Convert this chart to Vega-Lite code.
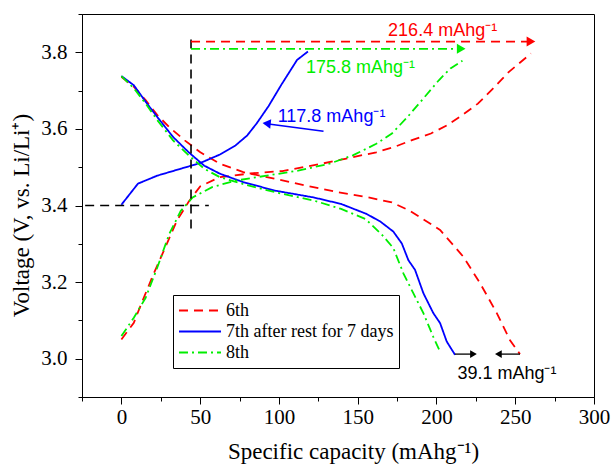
{
  "$schema": "https://vega.github.io/schema/vega-lite/v6.json",
  "autosize": {"type": "none"},
  "padding": {"left": 82, "top": 14, "right": 22, "bottom": 70},
  "width": 512,
  "height": 383,
  "datasets": {
    "curves": [
      {"cycle": "6th", "branch": "c", "i": 0, "cap": 0, "v": 3.05},
      {"cycle": "6th", "branch": "c", "i": 1, "cap": 7.9, "v": 3.094},
      {"cycle": "6th", "branch": "c", "i": 2, "cap": 12.9, "v": 3.146},
      {"cycle": "6th", "branch": "c", "i": 3, "cap": 20.3, "v": 3.22},
      {"cycle": "6th", "branch": "c", "i": 4, "cap": 27.8, "v": 3.29},
      {"cycle": "6th", "branch": "c", "i": 5, "cap": 35.2, "v": 3.36},
      {"cycle": "6th", "branch": "c", "i": 6, "cap": 42.7, "v": 3.41},
      {"cycle": "6th", "branch": "c", "i": 7, "cap": 50, "v": 3.45},
      {"cycle": "6th", "branch": "c", "i": 8, "cap": 62.5, "v": 3.474},
      {"cycle": "6th", "branch": "c", "i": 9, "cap": 82.4, "v": 3.484},
      {"cycle": "6th", "branch": "c", "i": 10, "cap": 102.2, "v": 3.49},
      {"cycle": "6th", "branch": "c", "i": 11, "cap": 127, "v": 3.509},
      {"cycle": "6th", "branch": "c", "i": 12, "cap": 142, "v": 3.522},
      {"cycle": "6th", "branch": "c", "i": 13, "cap": 161.8, "v": 3.539},
      {"cycle": "6th", "branch": "c", "i": 14, "cap": 174, "v": 3.554},
      {"cycle": "6th", "branch": "c", "i": 15, "cap": 184, "v": 3.57},
      {"cycle": "6th", "branch": "c", "i": 16, "cap": 196.5, "v": 3.588},
      {"cycle": "6th", "branch": "c", "i": 17, "cap": 206.5, "v": 3.609},
      {"cycle": "6th", "branch": "c", "i": 18, "cap": 216.4, "v": 3.636},
      {"cycle": "6th", "branch": "c", "i": 19, "cap": 226.3, "v": 3.666},
      {"cycle": "6th", "branch": "c", "i": 20, "cap": 236, "v": 3.706},
      {"cycle": "6th", "branch": "c", "i": 21, "cap": 246, "v": 3.749},
      {"cycle": "6th", "branch": "c", "i": 22, "cap": 260, "v": 3.797},
      {"cycle": "6th", "branch": "d", "i": 0, "cap": 0, "v": 3.736},
      {"cycle": "6th", "branch": "d", "i": 1, "cap": 7.9, "v": 3.71},
      {"cycle": "6th", "branch": "d", "i": 2, "cap": 15.4, "v": 3.675},
      {"cycle": "6th", "branch": "d", "i": 3, "cap": 22.8, "v": 3.636},
      {"cycle": "6th", "branch": "d", "i": 4, "cap": 30.3, "v": 3.605},
      {"cycle": "6th", "branch": "d", "i": 5, "cap": 40.2, "v": 3.57},
      {"cycle": "6th", "branch": "d", "i": 6, "cap": 50.1, "v": 3.539},
      {"cycle": "6th", "branch": "d", "i": 7, "cap": 62.5, "v": 3.509},
      {"cycle": "6th", "branch": "d", "i": 8, "cap": 77.4, "v": 3.487},
      {"cycle": "6th", "branch": "d", "i": 9, "cap": 97.3, "v": 3.47},
      {"cycle": "6th", "branch": "d", "i": 10, "cap": 117.1, "v": 3.452},
      {"cycle": "6th", "branch": "d", "i": 11, "cap": 137, "v": 3.435},
      {"cycle": "6th", "branch": "d", "i": 12, "cap": 156.8, "v": 3.421},
      {"cycle": "6th", "branch": "d", "i": 13, "cap": 171.7, "v": 3.408},
      {"cycle": "6th", "branch": "d", "i": 14, "cap": 183.2, "v": 3.386},
      {"cycle": "6th", "branch": "d", "i": 15, "cap": 202.3, "v": 3.336},
      {"cycle": "6th", "branch": "d", "i": 16, "cap": 217.1, "v": 3.266},
      {"cycle": "6th", "branch": "d", "i": 17, "cap": 227.7, "v": 3.197},
      {"cycle": "6th", "branch": "d", "i": 18, "cap": 238.3, "v": 3.119},
      {"cycle": "6th", "branch": "d", "i": 19, "cap": 246.7, "v": 3.048},
      {"cycle": "6th", "branch": "d", "i": 20, "cap": 253, "v": 3.012},
      {"cycle": "7th after rest for 7 days", "branch": "c", "i": 0, "cap": 0, "v": 3.402},
      {"cycle": "7th after rest for 7 days", "branch": "c", "i": 1, "cap": 10.5, "v": 3.457},
      {"cycle": "7th after rest for 7 days", "branch": "c", "i": 2, "cap": 22.8, "v": 3.478},
      {"cycle": "7th after rest for 7 days", "branch": "c", "i": 3, "cap": 37.7, "v": 3.496},
      {"cycle": "7th after rest for 7 days", "branch": "c", "i": 4, "cap": 50.1, "v": 3.511},
      {"cycle": "7th after rest for 7 days", "branch": "c", "i": 5, "cap": 62.5, "v": 3.533},
      {"cycle": "7th after rest for 7 days", "branch": "c", "i": 6, "cap": 72.5, "v": 3.557},
      {"cycle": "7th after rest for 7 days", "branch": "c", "i": 7, "cap": 79.9, "v": 3.583},
      {"cycle": "7th after rest for 7 days", "branch": "c", "i": 8, "cap": 86, "v": 3.615},
      {"cycle": "7th after rest for 7 days", "branch": "c", "i": 9, "cap": 93.5, "v": 3.66},
      {"cycle": "7th after rest for 7 days", "branch": "c", "i": 10, "cap": 101.5, "v": 3.715},
      {"cycle": "7th after rest for 7 days", "branch": "c", "i": 11, "cap": 111.5, "v": 3.78},
      {"cycle": "7th after rest for 7 days", "branch": "c", "i": 12, "cap": 118.4, "v": 3.802},
      {"cycle": "7th after rest for 7 days", "branch": "d", "i": 0, "cap": 0, "v": 3.738},
      {"cycle": "7th after rest for 7 days", "branch": "d", "i": 1, "cap": 7.9, "v": 3.714},
      {"cycle": "7th after rest for 7 days", "branch": "d", "i": 2, "cap": 15.4, "v": 3.671},
      {"cycle": "7th after rest for 7 days", "branch": "d", "i": 3, "cap": 22.8, "v": 3.631},
      {"cycle": "7th after rest for 7 days", "branch": "d", "i": 4, "cap": 32.8, "v": 3.579},
      {"cycle": "7th after rest for 7 days", "branch": "d", "i": 5, "cap": 42.7, "v": 3.539},
      {"cycle": "7th after rest for 7 days", "branch": "d", "i": 6, "cap": 52.6, "v": 3.504},
      {"cycle": "7th after rest for 7 days", "branch": "d", "i": 7, "cap": 62.5, "v": 3.483},
      {"cycle": "7th after rest for 7 days", "branch": "d", "i": 8, "cap": 77.4, "v": 3.461},
      {"cycle": "7th after rest for 7 days", "branch": "d", "i": 9, "cap": 97.3, "v": 3.439},
      {"cycle": "7th after rest for 7 days", "branch": "d", "i": 10, "cap": 122.1, "v": 3.421},
      {"cycle": "7th after rest for 7 days", "branch": "d", "i": 11, "cap": 139.5, "v": 3.404},
      {"cycle": "7th after rest for 7 days", "branch": "d", "i": 12, "cap": 155.6, "v": 3.378},
      {"cycle": "7th after rest for 7 days", "branch": "d", "i": 13, "cap": 164.4, "v": 3.358},
      {"cycle": "7th after rest for 7 days", "branch": "d", "i": 14, "cap": 172.6, "v": 3.332},
      {"cycle": "7th after rest for 7 days", "branch": "d", "i": 15, "cap": 178, "v": 3.301},
      {"cycle": "7th after rest for 7 days", "branch": "d", "i": 16, "cap": 182.2, "v": 3.257},
      {"cycle": "7th after rest for 7 days", "branch": "d", "i": 17, "cap": 186.4, "v": 3.232},
      {"cycle": "7th after rest for 7 days", "branch": "d", "i": 18, "cap": 191.7, "v": 3.171},
      {"cycle": "7th after rest for 7 days", "branch": "d", "i": 19, "cap": 198, "v": 3.119},
      {"cycle": "7th after rest for 7 days", "branch": "d", "i": 20, "cap": 202.3, "v": 3.093},
      {"cycle": "7th after rest for 7 days", "branch": "d", "i": 21, "cap": 206.5, "v": 3.045},
      {"cycle": "7th after rest for 7 days", "branch": "d", "i": 22, "cap": 211.8, "v": 3.01},
      {"cycle": "8th", "branch": "c", "i": 0, "cap": 0, "v": 3.059},
      {"cycle": "8th", "branch": "c", "i": 1, "cap": 7.9, "v": 3.107},
      {"cycle": "8th", "branch": "c", "i": 2, "cap": 15.4, "v": 3.159},
      {"cycle": "8th", "branch": "c", "i": 3, "cap": 22.8, "v": 3.238},
      {"cycle": "8th", "branch": "c", "i": 4, "cap": 30.3, "v": 3.325},
      {"cycle": "8th", "branch": "c", "i": 5, "cap": 37.7, "v": 3.386},
      {"cycle": "8th", "branch": "c", "i": 6, "cap": 45.2, "v": 3.421},
      {"cycle": "8th", "branch": "c", "i": 7, "cap": 57.6, "v": 3.448},
      {"cycle": "8th", "branch": "c", "i": 8, "cap": 72.5, "v": 3.465},
      {"cycle": "8th", "branch": "c", "i": 9, "cap": 92.3, "v": 3.478},
      {"cycle": "8th", "branch": "c", "i": 10, "cap": 112.2, "v": 3.491},
      {"cycle": "8th", "branch": "c", "i": 11, "cap": 132, "v": 3.509},
      {"cycle": "8th", "branch": "c", "i": 12, "cap": 146.9, "v": 3.531},
      {"cycle": "8th", "branch": "c", "i": 13, "cap": 161.8, "v": 3.561},
      {"cycle": "8th", "branch": "c", "i": 14, "cap": 171.7, "v": 3.588},
      {"cycle": "8th", "branch": "c", "i": 15, "cap": 181.6, "v": 3.631},
      {"cycle": "8th", "branch": "c", "i": 16, "cap": 191.6, "v": 3.679},
      {"cycle": "8th", "branch": "c", "i": 17, "cap": 201.5, "v": 3.727},
      {"cycle": "8th", "branch": "c", "i": 18, "cap": 208.9, "v": 3.758},
      {"cycle": "8th", "branch": "c", "i": 19, "cap": 216.5, "v": 3.778},
      {"cycle": "8th", "branch": "d", "i": 0, "cap": 0, "v": 3.738},
      {"cycle": "8th", "branch": "d", "i": 1, "cap": 7.9, "v": 3.706},
      {"cycle": "8th", "branch": "d", "i": 2, "cap": 15.4, "v": 3.666},
      {"cycle": "8th", "branch": "d", "i": 3, "cap": 22.8, "v": 3.623},
      {"cycle": "8th", "branch": "d", "i": 4, "cap": 32.8, "v": 3.57},
      {"cycle": "8th", "branch": "d", "i": 5, "cap": 42.7, "v": 3.531},
      {"cycle": "8th", "branch": "d", "i": 6, "cap": 52.6, "v": 3.496},
      {"cycle": "8th", "branch": "d", "i": 7, "cap": 62.5, "v": 3.474},
      {"cycle": "8th", "branch": "d", "i": 8, "cap": 77.4, "v": 3.456},
      {"cycle": "8th", "branch": "d", "i": 9, "cap": 97.3, "v": 3.435},
      {"cycle": "8th", "branch": "d", "i": 10, "cap": 122.1, "v": 3.413},
      {"cycle": "8th", "branch": "d", "i": 11, "cap": 139.5, "v": 3.391},
      {"cycle": "8th", "branch": "d", "i": 12, "cap": 154.9, "v": 3.365},
      {"cycle": "8th", "branch": "d", "i": 13, "cap": 165.3, "v": 3.324},
      {"cycle": "8th", "branch": "d", "i": 14, "cap": 172.6, "v": 3.289},
      {"cycle": "8th", "branch": "d", "i": 15, "cap": 179, "v": 3.223},
      {"cycle": "8th", "branch": "d", "i": 16, "cap": 185.3, "v": 3.171},
      {"cycle": "8th", "branch": "d", "i": 17, "cap": 191.7, "v": 3.119},
      {"cycle": "8th", "branch": "d", "i": 18, "cap": 198, "v": 3.057},
      {"cycle": "8th", "branch": "d", "i": 19, "cap": 202.3, "v": 3.018}
    ]
  },
  "resolve": {"axis": {"x": "independent", "y": "independent"}},
  "layer": [
    {
      "data": {"name": "curves"},
      "mark": {"type": "line", "strokeWidth": 1.8},
      "encoding": {
        "x": {
          "field": "cap", "type": "quantitative",
          "scale": {"domain": [-25, 300], "nice": false, "zero": false},
          "axis": {
            "orient": "bottom",
            "title": "Specific capacity (mAhg⁻¹)",
            "values": [0, 50, 100, 150, 200, 250, 300],
            "tickSize": 7,
            "labelPadding": 2,
            "titleX": 271, "titleY": 61, "titleBaseline": "alphabetic", "titleAlign": "center"
          }
        },
        "y": {
          "field": "v", "type": "quantitative",
          "scale": {"domain": [2.9, 3.9], "nice": false, "zero": false},
          "axis": {
            "orient": "left",
            "title": "Voltage (V, vs. Li/Li⁺)",
            "values": [3.0, 3.2, 3.4, 3.6, 3.8],
            "format": ".1f",
            "tickSize": 7,
            "labelPadding": 8,
            "titleX": -54, "titleY": 201, "titleBaseline": "alphabetic", "titleAlign": "center", "titleAngle": -90
          }
        },
        "color": {
          "field": "cycle", "type": "nominal", "title": null,
          "scale": {"domain": ["6th", "7th after rest for 7 days", "8th"], "range": ["#FF0000", "#0000FF", "#00EE00"]}
        },
        "strokeDash": {
          "field": "cycle", "type": "nominal", "title": null,
          "scale": {"domain": ["6th", "7th after rest for 7 days", "8th"], "range": [[9, 6], [1, 0], [9, 4, 2, 4]]}
        },
        "detail": {"field": "branch"},
        "order": {"field": "i", "type": "quantitative"}
      }
    },
    {
      "data": {"values": [
        {"x": -23, "x2": 55.5, "y": 3.4, "y2": 3.4},
        {"x": 44.2, "x2": 44.2, "y": 3.34, "y2": 3.834}
      ]},
      "mark": {"type": "rule", "color": "#000000", "strokeWidth": 1.6, "strokeDash": [9, 6]},
      "encoding": {
        "x": {"field": "x", "type": "quantitative", "axis": {"orient": "bottom", "values": [-25, 25, 75, 125, 175, 225, 275], "tickSize": 4, "labels": false, "domain": false, "title": null}},
        "x2": {"field": "x2"},
        "y": {"field": "y", "type": "quantitative", "axis": {"orient": "left", "values": [2.9, 3.1, 3.3, 3.5, 3.7, 3.9], "tickSize": 4, "labels": false, "domain": false, "title": null}},
        "y2": {"field": "y2"}
      }
    },
    {
      "data": {"values": [{"x": 44.2, "x2": 258, "y": 3.828}]},
      "mark": {"type": "rule", "color": "#FF0000", "strokeWidth": 1.8, "strokeDash": [9, 6]},
      "encoding": {
        "x": {"field": "x", "type": "quantitative", "axis": null},
        "x2": {"field": "x2"},
        "y": {"field": "y", "type": "quantitative", "axis": null}
      }
    },
    {
      "data": {"values": [{"x": 44.2, "x2": 214, "y": 3.809}]},
      "mark": {"type": "rule", "color": "#00EE00", "strokeWidth": 1.8, "strokeDash": [9, 4, 2, 4]},
      "encoding": {
        "x": {"field": "x", "type": "quantitative", "axis": null},
        "x2": {"field": "x2"},
        "y": {"field": "y", "type": "quantitative", "axis": null}
      }
    },
    {
      "data": {"values": [{"x": 91, "x2": 128.3, "y": 3.614, "y2": 3.594}]},
      "mark": {"type": "rule", "color": "#0000FF", "strokeWidth": 1.5},
      "encoding": {
        "x": {"field": "x", "type": "quantitative", "axis": null},
        "x2": {"field": "x2"},
        "y": {"field": "y", "type": "quantitative", "axis": null},
        "y2": {"field": "y2"}
      }
    },
    {
      "data": {"values": [{"x": 211.8, "x2": 223, "y": 3.012}, {"x": 253, "x2": 239.5, "y": 3.012}]},
      "mark": {"type": "rule", "color": "#000000", "strokeWidth": 1.3},
      "encoding": {
        "x": {"field": "x", "type": "quantitative", "axis": null},
        "x2": {"field": "x2"},
        "y": {"field": "y", "type": "quantitative", "axis": null}
      }
    },
    {
      "data": {"values": [{"x": 260, "y": 3.828}]},
      "mark": {"type": "point", "shape": "triangle-right", "filled": true, "opacity": 1, "size": 100, "color": "#FF0000"},
      "encoding": {"x": {"field": "x", "type": "quantitative", "axis": null}, "y": {"field": "y", "type": "quantitative", "axis": null}}
    },
    {
      "data": {"values": [{"x": 215.7, "y": 3.809}]},
      "mark": {"type": "point", "shape": "triangle-right", "filled": true, "opacity": 1, "size": 100, "color": "#00EE00"},
      "encoding": {"x": {"field": "x", "type": "quantitative", "axis": null}, "y": {"field": "y", "type": "quantitative", "axis": null}}
    },
    {
      "data": {"values": [{"x": 92.2, "y": 3.614}]},
      "mark": {"type": "point", "shape": "triangle-left", "angle": 6, "filled": true, "opacity": 1, "size": 90, "color": "#0000FF"},
      "encoding": {"x": {"field": "x", "type": "quantitative", "axis": null}, "y": {"field": "y", "type": "quantitative", "axis": null}}
    },
    {
      "data": {"values": [{"x": 223.5, "y": 3.012}]},
      "mark": {"type": "point", "shape": "triangle-right", "filled": true, "opacity": 1, "size": 60, "color": "#000000"},
      "encoding": {"x": {"field": "x", "type": "quantitative", "axis": null}, "y": {"field": "y", "type": "quantitative", "axis": null}}
    },
    {
      "data": {"values": [{"x": 239.3, "y": 3.012}]},
      "mark": {"type": "point", "shape": "triangle-left", "filled": true, "opacity": 1, "size": 60, "color": "#000000"},
      "encoding": {"x": {"field": "x", "type": "quantitative", "axis": null}, "y": {"field": "y", "type": "quantitative", "axis": null}}
    },
    {
      "data": {"values": [{"x": 169.3, "y": 3.843, "label": "216.4 mAhg⁻¹"}]},
      "mark": {"type": "text", "align": "left", "baseline": "alphabetic", "font": "Liberation Sans", "fontSize": 18, "color": "#FF0000"},
      "encoding": {"x": {"field": "x", "type": "quantitative", "axis": null}, "y": {"field": "y", "type": "quantitative", "axis": null}, "text": {"field": "label"}}
    },
    {
      "data": {"values": [{"x": 117.2, "y": 3.745, "label": "175.8 mAhg⁻¹"}]},
      "mark": {"type": "text", "align": "left", "baseline": "alphabetic", "font": "Liberation Sans", "fontSize": 18, "color": "#00EE00"},
      "encoding": {"x": {"field": "x", "type": "quantitative", "axis": null}, "y": {"field": "y", "type": "quantitative", "axis": null}, "text": {"field": "label"}}
    },
    {
      "data": {"values": [{"x": 99.2, "y": 3.617, "label": "117.8 mAhg⁻¹"}]},
      "mark": {"type": "text", "align": "left", "baseline": "alphabetic", "font": "Liberation Sans", "fontSize": 18, "color": "#0000FF"},
      "encoding": {"x": {"field": "x", "type": "quantitative", "axis": null}, "y": {"field": "y", "type": "quantitative", "axis": null}, "text": {"field": "label"}}
    },
    {
      "data": {"values": [{"x": 213.3, "y": 2.946, "label": "39.1 mAhg⁻¹"}]},
      "mark": {"type": "text", "align": "left", "baseline": "alphabetic", "font": "Liberation Sans", "fontSize": 18, "color": "#000000"},
      "encoding": {"x": {"field": "x", "type": "quantitative", "axis": null}, "y": {"field": "y", "type": "quantitative", "axis": null}, "text": {"field": "label"}}
    }
  ],
  "config": {
    "background": "#ffffff",
    "view": {"stroke": "#000000", "strokeWidth": 1},
    "axis": {
      "grid": false,
      "domainColor": "#000000", "domainWidth": 1,
      "tickColor": "#000000", "tickWidth": 1,
      "labelColor": "#000000", "titleColor": "#000000",
      "labelFont": "Liberation Serif", "titleFont": "Liberation Serif",
      "labelFontSize": 21, "titleFontSize": 23, "titleFontWeight": "normal",
      "labelFlush": false, "labelOverlap": false, "labelBound": false
    },
    "legend": {
      "orient": "none", "legendX": 91, "legendY": 281,
      "symbolType": "stroke", "symbolSize": 1764, "symbolStrokeWidth": 1.8,
      "clipHeight": 21, "rowPadding": 0,
      "labelFont": "Liberation Serif", "labelFontSize": 18, "labelColor": "#000000",
      "labelOffset": 4, "labelLimit": 400,
      "strokeColor": "#000000", "fillColor": "#ffffff", "padding": 5
    }
  }
}
